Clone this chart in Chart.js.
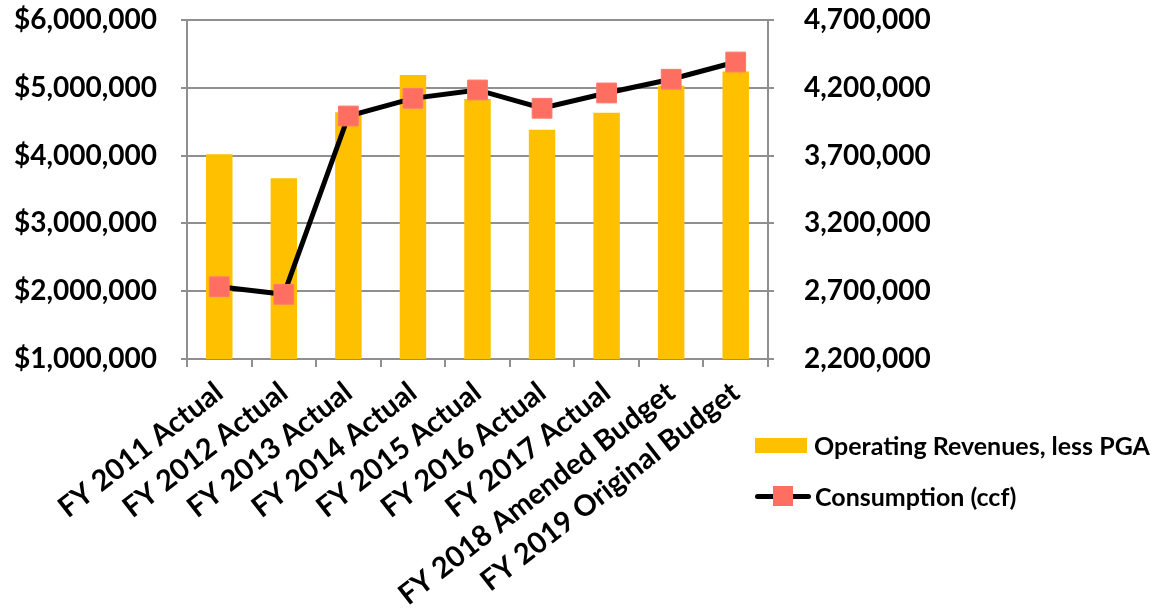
<!DOCTYPE html>
<html>
<head>
<meta charset="utf-8">
<script src="https://cdn.jsdelivr.net/npm/chart.js@4/dist/chart.umd.min.js"></script>
<style>
  body { margin: 0; background: #fff; }
  #wrap { position: relative; width: 1158px; height: 615px; }
  .legend-row { position: absolute; left: 755px; display: flex; align-items: center;
    font: bold 25px Lato, sans-serif; color: #000; white-space: nowrap; }
  .sw-bar { width: 52px; height: 15px; background: #FFC000; margin-right: 7px; }
  .sw-line { position: relative; width: 56px; height: 20px; margin-right: 4px; }
  .sw-line::before { content: ''; position: absolute; left: 0; right: 0; top: 8px; height: 5px;
    background: #000; border-radius: 3px; }
  .sw-line::after { content: ''; position: absolute; left: 18px; top: 0; width: 20px; height: 20px;
    background: #FF6F61; }
</style>
</head>
<body>
<div id="wrap">
  <canvas id="grafik" width="1158" height="615"></canvas>
  <div class="legend-row" style="top:430px"><div class="sw-bar"></div>Operating Revenues, less PGA</div>
  <div class="legend-row" style="top:481px"><div class="sw-line"></div>Consumption (ccf)</div>
</div>
<script>
// kategoriler ve seriler
const yillar = [
  'FY 2011 Actual', 'FY 2012 Actual', 'FY 2013 Actual', 'FY 2014 Actual',
  'FY 2015 Actual', 'FY 2016 Actual', 'FY 2017 Actual',
  'FY 2018 Amended Budget', 'FY 2019 Original Budget'
];
const gelirler = [4020000, 3665000, 4640000, 5190000, 4835000, 4380000, 4633000, 5030000, 5240000];
const tuketim = [2733000, 2677000, 3992000, 4122000, 4184000, 4049000, 4162000, 4263000, 4390000];

const solEksen = { min: 1000000, max: 6000000, step: 1000000 };
const sagEksen = { min: 2200000, max: 4700000, step: 500000 };

const GRI = '#8f8f8f';
const yazi = (size) => ({ family: 'Lato, sans-serif', size, weight: 'bold' });

// dikey eksenlerin etiket boşluğu çizim alanını aşağı itmesin
const dikeyFit = (genislik) => (s) => {
  s.width = genislik;
  s.paddingTop = 0;
  s.paddingBottom = 0;
};

new Chart(document.getElementById('grafik').getContext('2d'), {
  data: {
    labels: yillar,
    datasets: [
      {
        type: 'line',
        label: 'Consumption (ccf)',
        data: tuketim,
        yAxisID: 'ySag',
        order: 0,
        borderColor: '#000',
        borderWidth: 5,
        tension: 0,
        pointStyle: 'rect',
        pointRadius: 14,
        pointHoverRadius: 14,
        pointBackgroundColor: '#FF6F61',
        pointBorderColor: '#FF7A6C',
        pointBorderWidth: 1
      },
      {
        type: 'bar',
        label: 'Operating Revenues, less PGA',
        data: gelirler,
        yAxisID: 'ySol',
        order: 1,
        backgroundColor: '#FFC000',
        categoryPercentage: 1,
        barPercentage: 0.41
      }
    ]
  },
  options: {
    responsive: false,
    animation: false,
    layout: { padding: { top: 20, left: 0, right: 0, bottom: 0 } },
    plugins: { legend: { display: false }, tooltip: { enabled: false } },
    scales: {
      x: {
        offset: true,
        grid: { drawOnChartArea: false, drawTicks: true, tickLength: 8, color: GRI, lineWidth: 2, offset: true },
        border: { color: GRI, width: 2 },
        ticks: { color: '#000', font: yazi(29), minRotation: 38, maxRotation: 38, autoSkip: false, padding: 8 },
        afterFit: (s) => { s.height = 256; }
      },
      ySol: {
        position: 'left',
        min: solEksen.min, max: solEksen.max,
        grid: { color: GRI, lineWidth: 2, tickLength: 6 },
        border: { color: GRI, width: 2 },
        ticks: {
          stepSize: solEksen.step, color: '#000', font: yazi(28), padding: 24,
          callback: (v) => '$' + Number(v).toLocaleString('en-US')
        },
        afterFit: dikeyFit(187)
      },
      ySag: {
        position: 'right',
        min: sagEksen.min, max: sagEksen.max,
        grid: { drawOnChartArea: false, color: GRI, lineWidth: 2, tickLength: 6 },
        border: { color: GRI, width: 2 },
        ticks: {
          stepSize: sagEksen.step, color: '#000', font: yazi(28), padding: 30,
          callback: (v) => Number(v).toLocaleString('en-US')
        },
        afterFit: dikeyFit(390)
      }
    }
  }
});
</script>
</body>
</html>
